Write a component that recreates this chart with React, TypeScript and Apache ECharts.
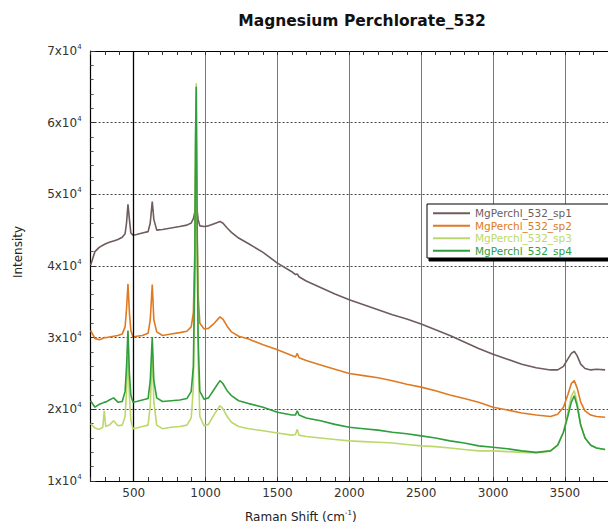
import React, { useEffect, useRef } from "react";
import * as echarts from "echarts";

const ramanShift = [200, 230, 260, 285, 295, 305, 330, 360, 390, 420, 440, 450, 460, 470, 480, 495, 520, 560, 600, 615, 629, 640, 660, 700, 760, 820, 870, 900, 915, 925, 930, 935, 940, 948, 960, 990, 1020, 1060, 1100, 1120, 1150, 1180, 1230, 1300, 1400, 1500, 1600, 1625, 1638, 1650, 1700, 1800, 1900, 2000, 2100, 2200, 2300, 2400, 2500, 2600, 2700, 2800, 2900, 3000, 3100, 3200, 3300, 3400, 3450, 3490, 3520, 3545, 3565, 3585, 3610, 3640, 3680, 3720, 3780];

const sp1 = [40100, 42000, 42600, 42900, 43000, 43100, 43300, 43500, 43700, 44000, 44500, 46000, 48600, 46500, 44600, 44300, 44400, 44600, 44800, 46000, 49000, 46500, 45000, 45100, 45300, 45500, 45700, 46000, 46600, 47500, 48500, 49000, 48000, 46500, 45600, 45500, 45600, 45900, 46200, 46000, 45300, 44700, 43900, 43100, 41900, 40400, 39200, 38800, 38900, 38500, 37900, 37000, 36100, 35300, 34600, 33900, 33200, 32600, 31900, 31100, 30300, 29400, 28500, 27700, 27000, 26300, 25800, 25500, 25500, 26000, 27000, 27800, 28100, 27500, 26300, 25700, 25500, 25600, 25500];

const sp2 = [31000, 29900, 29700, 29900, 30000, 30000, 30100, 30200, 30300, 30500, 31500, 34000, 37500, 33500, 31000, 30100, 30200, 30300, 30600, 32500, 37400, 32500, 30800, 30300, 30500, 30700, 30900, 31500, 33500, 42000, 52000, 58000, 46000, 36000, 32000, 31200, 31300, 32000, 32900, 32600, 31600, 30800, 30200, 29800, 29000, 28300, 27500, 27300, 27800, 27200, 26800, 26200, 25600, 25000, 24700, 24400, 24000, 23500, 23100, 22600, 22000, 21500, 21000, 20300, 19900, 19500, 19200, 19000, 19300, 20300, 22000, 23600, 24000, 23000, 21000, 19800, 19200, 19000, 18900];

const sp3 = [18000, 17400, 17200, 17500, 19800, 17600, 17800, 18400, 17700, 17800, 19000, 22500, 27500, 22000, 18500, 17300, 17400, 17600, 17800, 20500, 27800, 21000, 17800, 17300, 17500, 17600, 17800, 18800, 23000, 38000, 56000, 65500, 48000, 27000, 19000, 17700, 17900, 19300, 20500, 20100, 19000, 18200, 17600, 17300, 17000, 16700, 16400, 16500, 17200, 16400, 16200, 16000, 15800, 15600, 15500, 15400, 15300, 15100, 14900, 14800, 14600, 14400, 14200, 14200, 14100, 14000, 13900, 14200, 15000, 16800, 19500, 21800, 22600, 21000, 17800, 16000, 15000, 14600, 14400];

const sp4 = [21200, 20300, 20700, 20900, 21000, 21000, 21300, 21600, 21000, 21100, 22500, 26000, 31000, 25000, 22000, 21000, 21100, 21300, 21500, 24000, 30100, 24000, 21600, 21100, 21200, 21300, 21500, 22500, 26000, 40000, 58000, 65000, 50000, 30000, 22500, 21400, 21600, 22800, 24000, 23600, 22600, 21900, 21200, 20800, 20300, 19600, 19200, 19200, 19800, 19200, 18800, 18400, 17900, 17500, 17300, 17100, 16800, 16600, 16300, 16000, 15600, 15300, 14900, 14700, 14500, 14200, 14000, 14200, 15000, 16800, 19000, 21000, 21900, 20500, 17800, 16000, 15000, 14600, 14400];

const seriesNames = ["MgPerchl_532_sp1", "MgPerchl_532_sp2", "MgPerchl_532_sp3", "MgPerchl_532_sp4"];
const seriesValues = [sp1, sp2, sp3, sp4];
const seriesColors = ["#6f5c5c", "#e07a22", "#bcd86c", "#2f9e3c"];

const title = "Magnesium Perchlorate_532";
const FONT = "DejaVu Sans";

export default function App() {
  const ref = useRef<HTMLDivElement>(null);
  useEffect(() => {
    if (!ref.current) return;
    const chart = echarts.init(ref.current, null, { renderer: "svg" });
    const series: any[] = seriesNames.map((name, i) => ({
      name,
      type: "line",
      xAxisIndex: 0,
      yAxisIndex: 0,
      showSymbol: false,
      symbol: "none",
      data: ramanShift.map((x, j) => [x, seriesValues[i][j]]),
      lineStyle: { color: seriesColors[i], width: 1.6 },
      itemStyle: { color: seriesColors[i] },
      z: 3 + i,
    }));
    series[3].markLine = {
      silent: true,
      symbol: "none",
      label: { show: false },
      lineStyle: { color: "#000", type: "solid", width: 1.3 },
      data: [{ xAxis: 500 }],
    };
    const tickAxis = (position: string) => ({
      type: "value",
      position,
      min: 200,
      max: 3800,
      interval: 100,
      axisLine: { show: position === "top", lineStyle: { color: "#000", width: 1.2 } },
      axisTick: { show: true, inside: true, length: 4, lineStyle: { color: "#333" } },
      axisLabel: { show: false },
      splitLine: { show: false },
    });
    chart.setOption({
      animation: false,
      backgroundColor: "#fff",
      title: {
        text: title,
        left: 357,
        top: 8,
        textAlign: "center",
        textStyle: { fontFamily: FONT, fontSize: 15.5, fontWeight: "bold", color: "#111" },
      },
      grid: { left: 90.6, top: 51, width: 519.8, height: 430 },
      legend: {
        orient: "vertical",
        left: 427,
        top: 204,
        icon: "rect",
        itemWidth: 37,
        itemHeight: 2,
        itemGap: 0,
        padding: [3, 40, 1, 6],
        backgroundColor: "#fff",
        borderColor: "#000",
        borderWidth: 1,
        shadowColor: "#000",
        shadowBlur: 1,
        shadowOffsetX: 2,
        shadowOffsetY: 3,
        textStyle: { fontFamily: FONT, fontSize: 10.5, lineHeight: 12.5 },
        data: seriesNames.map((n, i) => ({ name: n, textStyle: { color: seriesColors[i] } })),
      },
      xAxis: [
        {
          type: "value",
          position: "bottom",
          min: 200,
          max: 3800,
          minInterval: 500,
          maxInterval: 500,
          splitNumber: 7,
          axisLine: { show: true, onZero: false, lineStyle: { color: "#000", width: 1.2 } },
          axisTick: { show: false },
          axisLabel: {
            showMinLabel: false,
            showMaxLabel: false,
            margin: 6,
            fontFamily: FONT,
            fontSize: 12,
            color: "#333",
            formatter: (v: number) => String(v),
          },
          splitLine: { show: true, lineStyle: { color: "#777", width: 1, type: "solid" } },
        },
        tickAxis("bottom"),
        tickAxis("top"),
      ],
      yAxis: {
        type: "value",
        min: 10000,
        max: 70000,
        interval: 10000,
        axisLine: { show: true, lineStyle: { color: "#000", width: 1.2 } },
        axisTick: { show: true, inside: true, length: 5, lineStyle: { color: "#333" } },
        minorTick: { show: true, splitNumber: 5, length: 3, lineStyle: { color: "#555" } },
        axisLabel: {
          margin: 9,
          formatter: (v: number) => `{b|${v / 10000}x10}{s|4}`,
          rich: {
            b: { fontFamily: FONT, fontSize: 12, color: "#333" },
            s: { fontFamily: FONT, fontSize: 7, color: "#333", padding: [0, 0, 8, 0] },
          },
        },
        splitLine: { show: true, lineStyle: { color: "#444", width: 1, type: [2, 2] } },
      },
      graphic: [
        {
          type: "text",
          x: 18,
          y: 252,
          rotation: Math.PI / 2,
          style: {
            text: "Intensity",
            fontFamily: FONT,
            fontSize: 12,
            fill: "#222",
            align: "center",
            verticalAlign: "middle",
          },
        },
        {
          type: "group",
          x: 349,
          y: 517,
          children: [
            {
              type: "text",
              x: -4,
              y: 0,
              style: {
                text: "Raman Shift (cm",
                fontFamily: FONT,
                fontSize: 12,
                fill: "#222",
                align: "right",
                verticalAlign: "middle",
              },
            },
            {
              type: "text",
              x: -4,
              y: -4,
              style: {
                text: "-1",
                fontFamily: FONT,
                fontSize: 7,
                fill: "#222",
                align: "left",
                verticalAlign: "middle",
              },
            },
            {
              type: "text",
              x: 3,
              y: 0,
              style: {
                text: ")",
                fontFamily: FONT,
                fontSize: 12,
                fill: "#222",
                align: "left",
                verticalAlign: "middle",
              },
            },
          ],
        },
      ],
      series,
    });
    return () => chart.dispose();
  }, []);
  return (
    <div
      ref={ref}
      style={{ position: "fixed", left: 0, top: 0, width: 608, height: 525 }}
    />
  );
}
